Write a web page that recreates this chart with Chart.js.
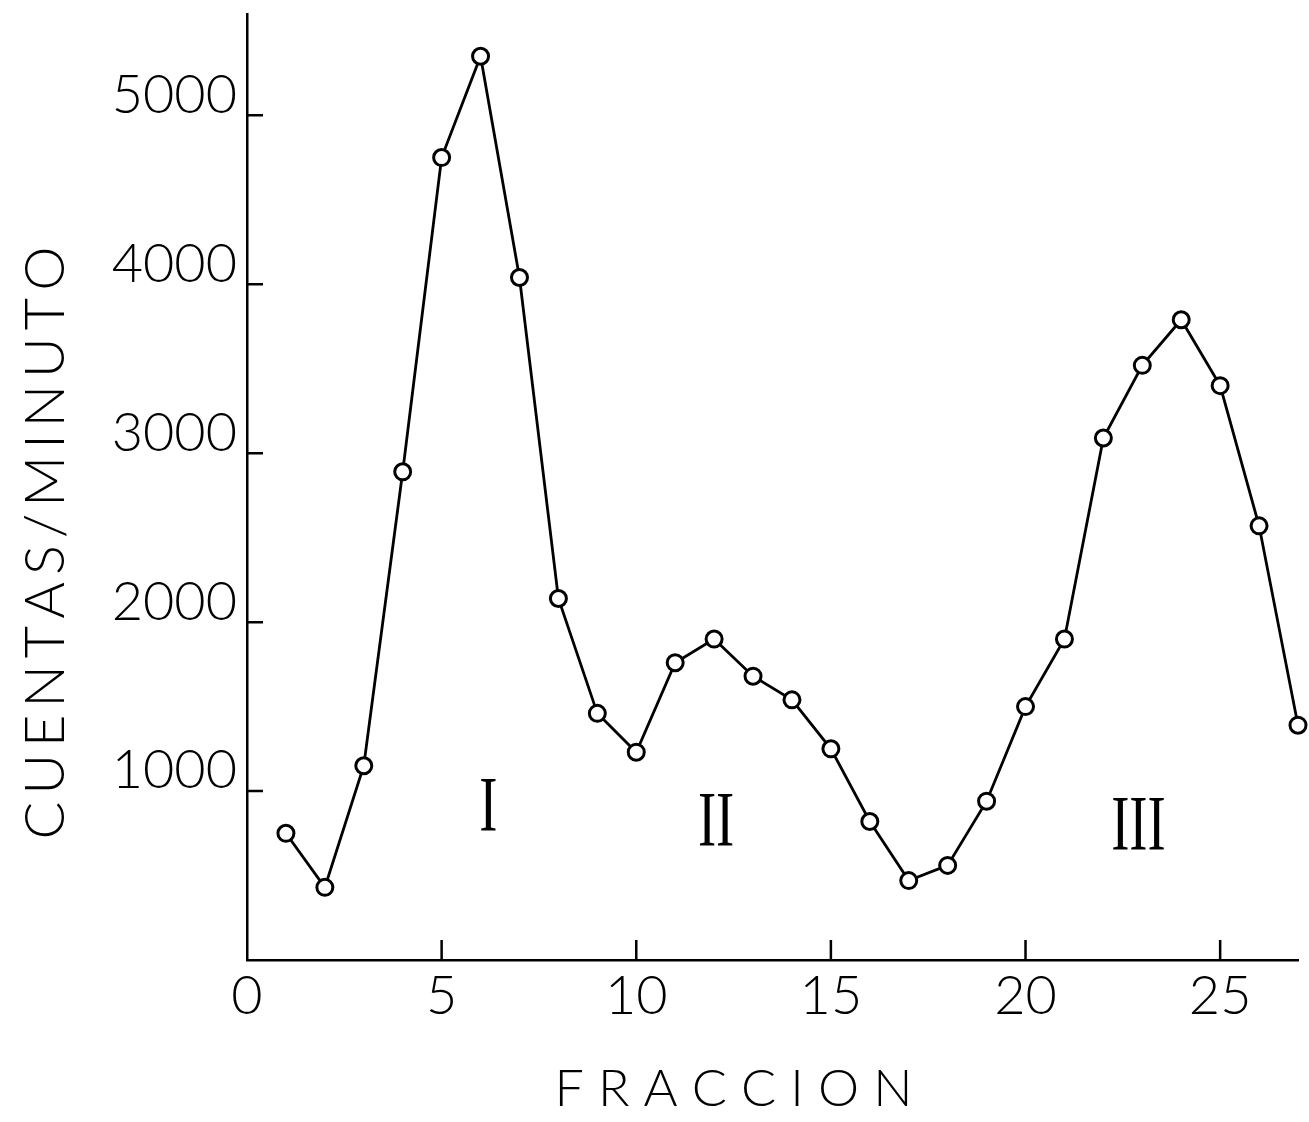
<!DOCTYPE html>
<html>
<head>
<meta charset="utf-8">
<script src="https://cdn.jsdelivr.net/npm/chart.js@4/dist/chart.umd.min.js"></script>
<style>
html,body{margin:0;padding:0;background:#fff;}
#wrap{width:1309px;height:1122px;position:relative;}
</style>
</head>
<body>
<div id="wrap"><canvas id="c"></canvas></div>
<script>
// Data
const fracciones = [1,2,3,4,5,6,7,8,9,10,11,12,13,14,15,16,17,18,19,20,21,22,23,24,25,26,27];
const cuentas = [750,430,1150,2890,4750,5350,4040,2140,1460,1230,1760,1900,1680,1540,1250,820,470,560,940,1500,1900,3090,3520,3790,3400,2570,1390];
const yTickValues = [1000,2000,3000,4000,5000];
const xTickValues = [5,10,15,20,25];
const xLabelValues = [0,5,10,15,20,25];
const picoLabels = ['I','II','III'];
const picoX = [6.2,12.05,22.9];
const picoY = [890,800,780];

const ink = '#000';
const EN = '\u2002';

const inwardTicks = {
  id: 'inwardTicks',
  afterDraw(chart) {
    const ctx = chart.ctx;
    const xs = chart.scales.x, ys = chart.scales.y;
    ctx.save();
    ctx.strokeStyle = ink;
    ctx.lineWidth = 2.5;
    ctx.beginPath();
    yTickValues.forEach(v => {
      const py = ys.getPixelForValue(v);
      ctx.moveTo(xs.left, py);
      ctx.lineTo(xs.left + 16, py);
    });
    xTickValues.forEach(v => {
      const px = xs.getPixelForValue(v);
      ctx.moveTo(px, ys.bottom);
      ctx.lineTo(px, ys.bottom - 20);
    });
    ctx.stroke();
    // roman numeral peak labels
    ctx.fillStyle = ink;
    ctx.font = '78px "Liberation Serif"';
    ctx.textAlign = 'center';
    ctx.textBaseline = 'middle';
    picoLabels.forEach((t, i) => {
      const px = xs.getPixelForValue(picoX[i]);
      const py = ys.getPixelForValue(picoY[i]);
      ctx.save();
      ctx.translate(px, py);
      ctx.scale(0.7, 1);
      ctx.fillText(t, 0, 0);
      ctx.restore();
    });
    ctx.restore();
  }
};

new Chart(document.getElementById('c'), {
  type: 'line',
  data: {
    datasets: [{
      data: fracciones.map((f, i) => ({x: f, y: cuentas[i]})),
      borderColor: ink,
      borderWidth: 2.8,
      pointRadius: 8,
      pointBorderWidth: 3,
      pointBackgroundColor: '#fff',
      pointBorderColor: ink,
      tension: 0,
      clip: false
    }]
  },
  options: {
    responsive: true,
    maintainAspectRatio: false,
    animation: false,
    layout: {padding: {top: 14, right: 9, left: 0, bottom: 0}},
    plugins: {legend: {display: false}, tooltip: {enabled: false}},
    scales: {
      x: {
        type: 'linear',
        min: 0, max: 27,
        afterBuildTicks(s) { s.ticks = xLabelValues.map(v => ({value: v})); },
        afterFit(s) { s.height = 162; s.paddingLeft = 0; s.paddingRight = 0; },
        grid: {display: true, drawOnChartArea: false, drawTicks: false},
        border: {display: true, color: ink, width: 2.5},
        ticks: {
          autoSkip: false,
          maxRotation: 0,
          padding: 4,
          color: ink,
          font: {family: 'Lato', size: 54, weight: 300},
          callback: v => String(v)
        },
        title: {
          display: true,
          text: 'F R A C C I O N' + EN + EN + EN,
          color: ink,
          font: {family: 'Lato', size: 52, weight: 300},
          padding: {top: 0, bottom: 2}
        }
      },
      y: {
        type: 'linear',
        min: 0, max: 5600,
        afterBuildTicks(s) { s.ticks = yTickValues.map(v => ({value: v})); },
        afterFit(s) { s.width = 247; s.paddingTop = 0; s.paddingBottom = 0; },
        grid: {display: true, drawOnChartArea: false, drawTicks: false},
        border: {display: true, color: ink, width: 2.5},
        ticks: {
          autoSkip: false,
          padding: 10,
          labelOffset: -20,
          color: ink,
          font: {family: 'Lato', size: 54, weight: 300},
          callback: v => String(v)
        },
        title: {
          display: true,
          text: 'C\u2009U\u2009E\u2009N\u2009T\u2009A\u2009S\u2009/\u2009M\u2009I\u2009N\u2009U\u2009T\u2009O' + EN + EN + EN + EN,
          color: ink,
          font: {family: 'Lato', size: 56, weight: 300},
          padding: {top: 12, bottom: 0}
        }
      }
    }
  },
  plugins: [inwardTicks]
});
</script>
</body>
</html>
